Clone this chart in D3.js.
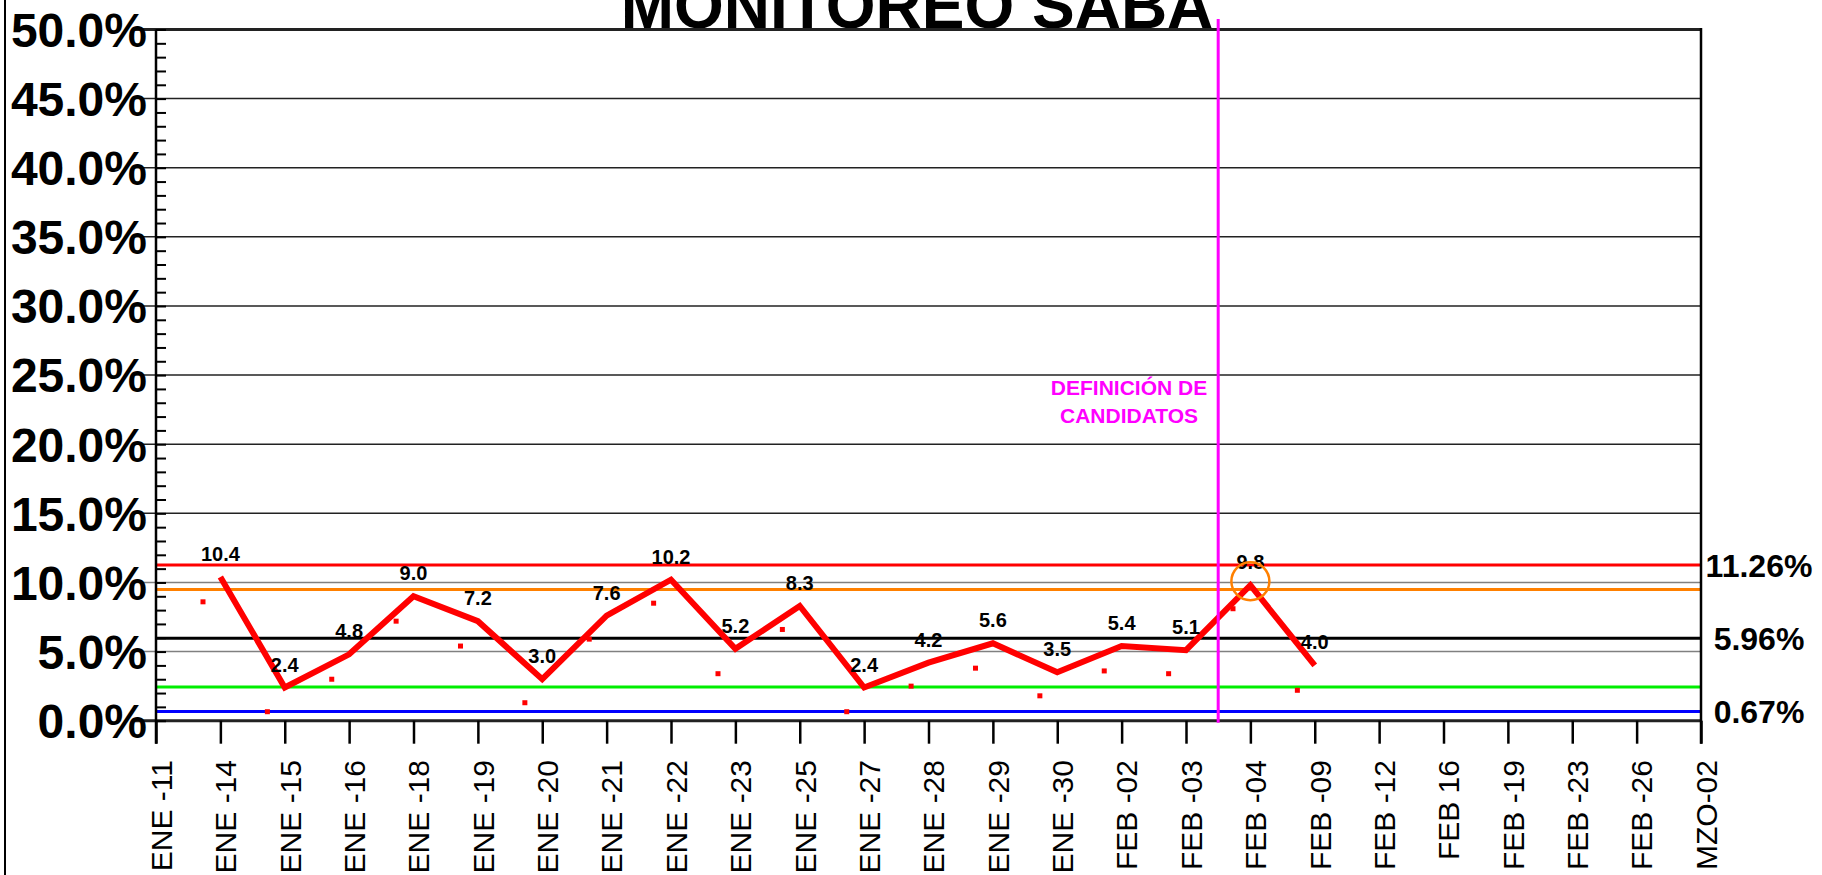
<!DOCTYPE html>
<html>
<head>
<meta charset="utf-8">
<script src="https://cdn.jsdelivr.net/npm/d3@7"></script>
<style>
  body { margin: 0; background: #fff; }
  svg { display: block; font-family: "Liberation Sans", Arial, sans-serif; }
</style>
</head>
<body>
<script>
// fechas del monitoreo
let categories = ["ENE -11", "ENE -14", "ENE -15", "ENE -16", "ENE -18", "ENE -19", "ENE -20",
    "ENE -21", "ENE -22", "ENE -23", "ENE -25", "ENE -27", "ENE -28", "ENE -29", "ENE -30",
    "FEB -02", "FEB -03", "FEB -04", "FEB -09", "FEB -12", "FEB 16", "FEB -19", "FEB -23",
    "FEB -26", "MZO-02"]

// serie principal (linea roja con etiquetas)
let lineDates = ["ENE -14", "ENE -15", "ENE -16", "ENE -18", "ENE -19", "ENE -20", "ENE -21",
    "ENE -22", "ENE -23", "ENE -25", "ENE -27", "ENE -28", "ENE -29", "ENE -30", "FEB -02",
    "FEB -03", "FEB -04", "FEB -09"]
let lineValues = [10.4, 2.4, 4.8, 9.0, 7.2, 3.0, 7.6, 10.2, 5.2, 8.3, 2.4, 4.2, 5.6, 3.5, 5.4, 5.1, 9.8, 4.0]

// serie secundaria (cuadritos rojos)
let dotValues = [8.6, 0.65, 3.0, 7.2, 5.4, 1.3, 5.9, 8.5, 3.4, 6.6, 0.65, 2.5, 3.8, 1.8, 3.6, 3.4, 8.1, 2.2]

// limites de control
let limitValues = [11.26, 9.49, 5.96, 2.43, 0.67]
let limitColors = ["#ff0000", "#ff8000", "#000000", "#00ee00", "#0000ff"]
let limitLabels = ["11.26%", "", "5.96%", "", "0.67%"]

let yTicks = [0, 5, 10, 15, 20, 25, 30, 35, 40, 45, 50]

let width = 1822
let height = 875
let margins = {top: 29.5, right: 121, bottom: 154.3, left: 156}

let svg = d3.select("body").append("svg")
    .attr("width", width)
    .attr("height", height)

let x = d3.scalePoint()
    .domain(categories)
    .range([margins.left, width - margins.right])
let y = d3.scaleLinear()
    .domain([0, 50])
    .range([height - margins.bottom, margins.top])
let step = x.step()

// borde izquierdo
svg.append("line")
    .attr("x1", 5).attr("x2", 5).attr("y1", 0).attr("y2", height)
    .attr("stroke", "#000").attr("stroke-width", 2)

// titulo (cortado arriba, igual que el original)
svg.append("text")
    .attr("x", 917).attr("y", 28)
    .attr("text-anchor", "middle")
    .style("font-size", "64px").style("font-weight", "bold")
    .text("MONITOREO SABA")

// lineas de la reticula
let grid = svg.append("g")
grid.selectAll("line")
    .data(yTicks)
    .join("line")
    .attr("x1", margins.left - 24)
    .attr("x2", width - margins.right)
    .attr("y1", d => y(d)).attr("y2", d => y(d))
    .attr("stroke", d => (d === 5 || d === 10) ? "#808080" : "#222")
    .attr("stroke-width", d => (d === 50 || d === 0) ? 3 : 1.5)

// ticks menores del eje y
let yAxis = d3.axisRight(y)
    .tickValues(d3.range(0, 51, 1))
    .tickSize(10)
    .tickFormat("")
svg.append("g")
    .attr("transform", `translate(${margins.left}, 0)`)
    .call(yAxis)
    .call(g => g.select(".domain").remove())
    .call(g => g.selectAll(".tick line").attr("stroke", "#000").attr("stroke-width", 2))

// etiquetas eje y
svg.append("g").selectAll("text")
    .data(yTicks)
    .join("text")
    .attr("x", 147)
    .attr("y", d => y(d))
    .attr("dy", "0.36em")
    .attr("text-anchor", "end")
    .style("font-size", "48px").style("font-weight", "bold")
    .text(d => d.toFixed(1) + "%")

// limites de control
svg.append("g").selectAll("line")
    .data(limitValues)
    .join("line")
    .attr("x1", margins.left).attr("x2", width - margins.right)
    .attr("y1", d => y(d)).attr("y2", d => y(d))
    .attr("stroke", (d, i) => limitColors[i])
    .attr("stroke-width", 3)

svg.append("g").selectAll("text")
    .data(limitValues)
    .join("text")
    .attr("x", 1759)
    .attr("y", d => y(d))
    .attr("dy", "0.36em")
    .attr("text-anchor", "middle")
    .style("font-size", "32px").style("font-weight", "bold")
    .text((d, i) => limitLabels[i])

// serie secundaria
svg.append("g").selectAll("rect")
    .data(dotValues)
    .join("rect")
    .attr("x", (d, i) => x(lineDates[i]) - 0.27 * step - 2.5)
    .attr("y", d => y(d) - 2.5)
    .attr("width", 5).attr("height", 5)
    .attr("fill", "#ff0000")

// linea principal
let line = d3.line()
    .x((d, i) => x(lineDates[i]))
    .y(d => y(d))
svg.append("path")
    .datum(lineValues)
    .attr("d", line)
    .attr("fill", "none")
    .attr("stroke", "#ff0000")
    .attr("stroke-width", 6)
    .attr("stroke-linejoin", "miter")

svg.append("g").selectAll("text")
    .data(lineValues)
    .join("text")
    .attr("x", (d, i) => x(lineDates[i]))
    .attr("y", d => y(d) - 16)
    .attr("text-anchor", "middle")
    .style("font-size", "20px").style("font-weight", "bold")
    .text(d => d.toFixed(1))

// circulo en FEB -04
let peak = lineDates.indexOf("FEB -04")
svg.append("circle")
    .attr("cx", x("FEB -04"))
    .attr("cy", y(lineValues[peak]) - 4)
    .attr("r", 19)
    .attr("fill", "none")
    .attr("stroke", "#ff8000")
    .attr("stroke-width", 2.5)

// definicion de candidatos
let markX = (x("FEB -03") + x("FEB -04")) / 2
svg.append("line")
    .attr("x1", markX).attr("x2", markX)
    .attr("y1", 19).attr("y2", y(0) + 2)
    .attr("stroke", "#ff00ff").attr("stroke-width", 3)

svg.append("text")
    .attr("x", 1129).attr("y", 395)
    .attr("text-anchor", "middle")
    .attr("fill", "#ff00ff")
    .style("font-size", "21px").style("font-weight", "bold")
    .selectAll("tspan")
    .data(["DEFINICIÓN DE", "CANDIDATOS"])
    .join("tspan")
    .attr("x", 1129)
    .attr("dy", (d, i) => i === 0 ? 0 : 28)
    .text(d => d)

// ejes verticales del marco
svg.append("line")
    .attr("x1", margins.left).attr("x2", margins.left)
    .attr("y1", margins.top).attr("y2", y(0) + 23)
    .attr("stroke", "#000").attr("stroke-width", 2.5)
svg.append("line")
    .attr("x1", width - margins.right).attr("x2", width - margins.right)
    .attr("y1", margins.top - 1.5).attr("y2", y(0) + 23)
    .attr("stroke", "#000").attr("stroke-width", 2.5)

// eje x
let xAxis = d3.axisBottom(x)
    .tickSize(23)
    .tickFormat("")
svg.append("g")
    .attr("transform", `translate(0, ${y(0)})`)
    .call(xAxis)
    .call(g => g.select(".domain").remove())
    .call(g => g.selectAll(".tick line").attr("stroke", "#000").attr("stroke-width", 2.5))

svg.append("g").selectAll("text")
    .data(categories)
    .join("text")
    .attr("transform", d => `translate(${x(d) + 5}, 760) rotate(-90)`)
    .attr("dy", "0.36em")
    .attr("text-anchor", "end")
    .style("font-size", "30px")
    .text(d => d)
</script>
</body>
</html>
